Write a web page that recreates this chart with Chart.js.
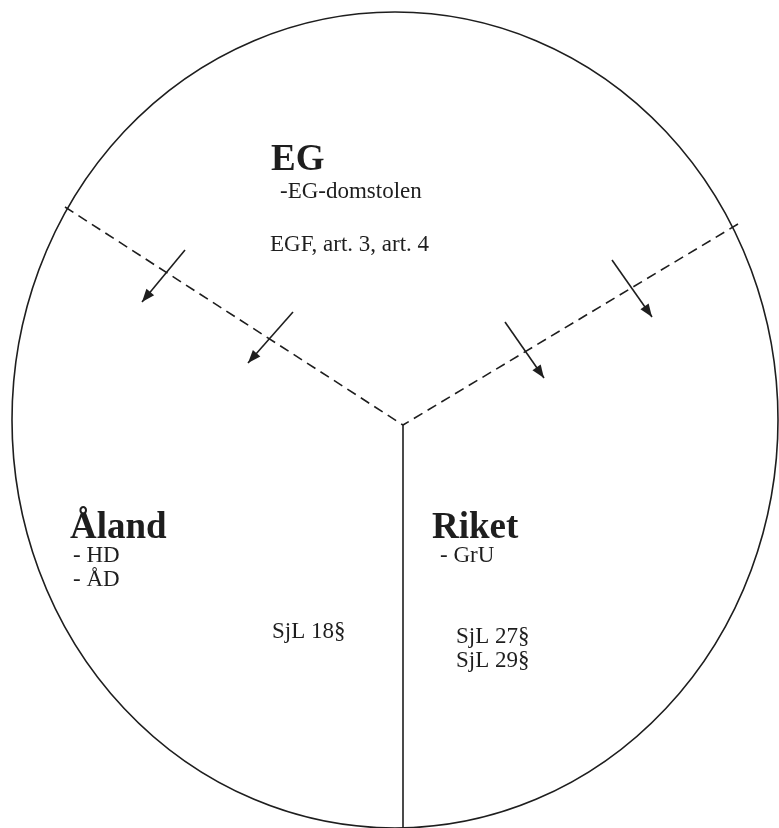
<!DOCTYPE html>
<html>
<head>
<meta charset="utf-8">
<script src="https://cdn.jsdelivr.net/npm/chart.js@4/dist/chart.umd.min.js"></script>
<style>
  html, body { margin: 0; padding: 0; background: #fff; }
  #diagram { display: block; }
</style>
</head>
<body>
<canvas id="diagram" width="779" height="828"></canvas>
<script>
// outer ring (in diagram units, same as the 779x828 sheet)
const ringCenter = [395, 420];
const ringRadius = [383, 408];

// the three borders between the areas
const hub = { x: 403, y: 425 };
const borderLeft = [{ x: 65, y: 207 }, hub];
const borderRight = [{ x: 738, y: 224 }, hub];
const borderDown = [hub, { x: 403, y: 828 }];

// arrows crossing the dashed borders (start -> tip)
const arrowStarts = [
  { x: 185, y: 250 }, { x: 293, y: 312 },
  { x: 505, y: 322 }, { x: 612, y: 260 }
];
const arrowTips = [
  { x: 142, y: 302 }, { x: 248, y: 363 },
  { x: 544, y: 378 }, { x: 652, y: 317 }
];

// headings and notes
const headingTexts = ["EG", "Åland", "Riket"];
const headingPos = [{ x: 271, y: 170 }, { x: 70, y: 538 }, { x: 432, y: 538 }];
const noteTexts = ["-EG-domstolen", "EGF, art. 3, art. 4", "- HD", "- ÅD", "- GrU", "SjL 18§", "SjL 27§", "SjL 29§"];
const notePos = [
  { x: 280, y: 198 }, { x: 270, y: 251 },
  { x: 73, y: 562 }, { x: 73, y: 586 },
  { x: 440, y: 562 },
  { x: 272, y: 638 },
  { x: 456, y: 643 }, { x: 456, y: 667 }
];

const ink = "#1e1e1e";

const ringPlugin = {
  id: "ring",
  afterDatasetsDraw(chart) {
    const { ctx, scales: { x, y } } = chart;
    const cx = x.getPixelForValue(ringCenter[0]);
    const cy = y.getPixelForValue(ringCenter[1]);
    const rx = Math.abs(x.getPixelForValue(ringCenter[0] + ringRadius[0]) - cx);
    const ry = Math.abs(y.getPixelForValue(ringCenter[1] + ringRadius[1]) - cy);
    ctx.save();
    ctx.strokeStyle = ink;
    ctx.lineWidth = 1.6;
    ctx.beginPath();
    ctx.ellipse(cx, cy, rx, ry, 0, 0, Math.PI * 2);
    ctx.stroke();
    ctx.restore();
  }
};

const arrowHeadPlugin = {
  id: "arrowHeads",
  afterDatasetsDraw(chart) {
    const { ctx, scales: { x, y } } = chart;
    ctx.save();
    ctx.fillStyle = ink;
    arrowTips.forEach((tip, i) => {
      const s = arrowStarts[i];
      const x0 = x.getPixelForValue(s.x), y0 = y.getPixelForValue(s.y);
      const x1 = x.getPixelForValue(tip.x), y1 = y.getPixelForValue(tip.y);
      const a = Math.atan2(y1 - y0, x1 - x0);
      const len = 13, half = 5;
      ctx.beginPath();
      ctx.moveTo(x1, y1);
      ctx.lineTo(x1 - len * Math.cos(a) + half * Math.sin(a), y1 - len * Math.sin(a) - half * Math.cos(a));
      ctx.lineTo(x1 - len * Math.cos(a) - half * Math.sin(a), y1 - len * Math.sin(a) + half * Math.cos(a));
      ctx.closePath();
      ctx.fill();
    });
    ctx.restore();
  }
};

const labelPlugin = {
  id: "labels",
  afterDatasetsDraw(chart) {
    const { ctx, scales: { x, y } } = chart;
    ctx.save();
    ctx.fillStyle = ink;
    ctx.textAlign = "left";
    ctx.textBaseline = "alphabetic";
    ctx.font = "bold 37px 'Liberation Serif', 'DejaVu Serif', serif";
    headingTexts.forEach((t, i) => {
      ctx.fillText(t, x.getPixelForValue(headingPos[i].x), y.getPixelForValue(headingPos[i].y));
    });
    ctx.font = "23px 'Liberation Serif', 'DejaVu Serif', serif";
    noteTexts.forEach((t, i) => {
      ctx.fillText(t, x.getPixelForValue(notePos[i].x), y.getPixelForValue(notePos[i].y));
    });
    ctx.restore();
  }
};

const lineStyle = { showLine: true, pointRadius: 0, borderColor: ink, borderWidth: 1.6, fill: false };

const datasets = [
  { ...lineStyle, data: borderLeft, borderDash: [10, 6] },
  { ...lineStyle, data: borderRight, borderDash: [10, 6] },
  { ...lineStyle, data: borderDown }
];
arrowStarts.forEach((s, i) => {
  datasets.push({ ...lineStyle, data: [s, arrowTips[i]] });
});

new Chart(document.getElementById("diagram"), {
  type: "scatter",
  data: { datasets },
  options: {
    responsive: false,
    animation: false,
    layout: { padding: 0 },
    plugins: { legend: { display: false }, tooltip: { enabled: false } },
    scales: {
      x: { type: "linear", min: 0, max: 779, display: false },
      y: { type: "linear", min: 0, max: 828, reverse: true, display: false }
    }
  },
  plugins: [ringPlugin, arrowHeadPlugin, labelPlugin]
});
</script>
</body>
</html>
